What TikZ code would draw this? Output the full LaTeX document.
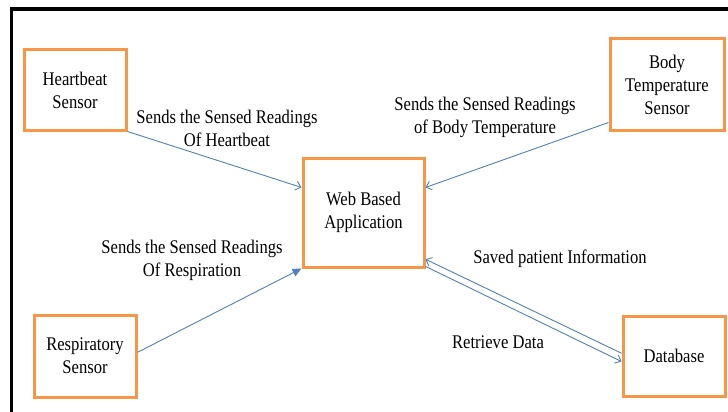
\documentclass[tikz,border=0pt]{standalone}
\usepackage{fontspec}
\setmainfont[FakeStretch=0.86]{Liberation Serif}
\usetikzlibrary{arrows.meta}
\definecolor{boxorange}{RGB}{247,150,70}
\definecolor{linkblue}{RGB}{79,129,189}
\begin{document}
\begin{tikzpicture}[x=1pt,y=-1pt,
  every node/.style={font=\fontsize{19.3}{23}\selectfont},
  unit/.style={draw=boxorange,line width=3pt,fill=white,inner sep=0pt,align=center},
  caption/.style={align=center,inner sep=0pt},
  link/.style={draw=linkblue,line width=0.9pt,-{Straight Barb[length=5pt,width=9pt,line width=0.9pt]}},
  pushlink/.style={draw=linkblue,line width=0.9pt,-{Triangle[length=9pt,width=8pt]}}]
  % canvas and frame
  \useasboundingbox (0,0) rectangle (728,412);
  \fill[white] (0,0) rectangle (728,412);
  \draw[line width=3.5pt] (11.5,412) -- (11.5,9) -- (728,9);

  % components
  \node[unit,minimum width=102pt,minimum height=80pt] (heart) at (75,90) {Heartbeat\\Sensor};
  \node[unit,minimum width=114pt,minimum height=91pt] (body) at (667,84.5) {Body\\Temperature\\Sensor};
  \node[unit,minimum width=102pt,minimum height=82pt] (resp) at (85,356) {Respiratory\\Sensor};
  \node[unit,minimum width=121pt,minimum height=109pt] (web) at (363.5,212.5) {Web Based\\Application};
  \node[unit,minimum width=102pt,minimum height=80pt] (db) at (674,356) {Database};

  % data flows
  \draw[link] (heart.south east) -- (web.158);
  \draw[link] (body.213) -- (web.22);
  \draw[pushlink] (resp.4) -- (web.south west);
  \draw[link] (db.177) -- (web.-37);
  \draw[link] (web.-41) -- (db.186);

  % flow captions
  \node[caption] (lheart) at (227,128) {Sends the Sensed Readings\\Of Heartbeat};
  \node[caption] (lbody) at (485,117) {Sends the Sensed Readings\\of Body Temperature};
  \node[caption] (lresp) at (192,260) {Sends the Sensed Readings\\Of Respiration};
  \node[caption] (lsave) at (560,259) {Saved patient Information};
  \node[caption] (lget) at (498,342) {Retrieve Data};
\end{tikzpicture}
\end{document}
